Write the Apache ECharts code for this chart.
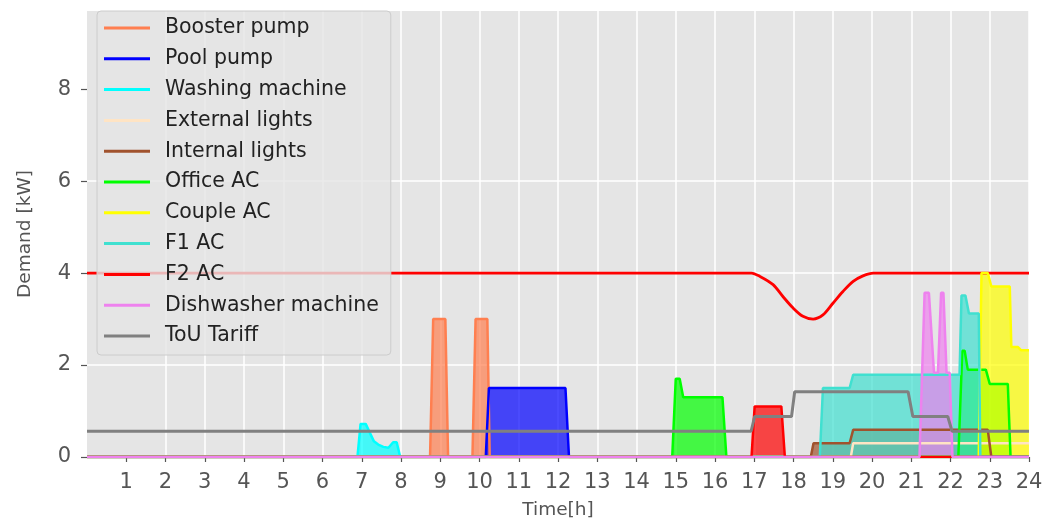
<!DOCTYPE html>
<html>
<head>
<meta charset="utf-8">
<script src="https://cdn.jsdelivr.net/npm/echarts@6/dist/echarts.min.js"></script>
<style>
html,body{margin:0;padding:0;background:#fff;}
#chart{width:1057px;height:520px;}
</style>
</head>
<body>
<div id="chart"></div>
<script>
// ---- data (time in hours, demand in kW) ----
const seriesNames = ['Booster pump','Pool pump','Washing machine','External lights','Internal lights','Office AC','Couple AC','F1 AC','F2 AC','Dishwasher machine','ToU Tariff'];
const seriesColors = ['#FF7F50','#0000FF','#00FFFF','#FFE4C4','#A0522D','#00FF00','#FFFF00','#40E0D0','#FF0000','#EE82EE','#808080'];
const xTicks = [1,2,3,4,5,6,7,8,9,10,11,12,13,14,15,16,17,18,19,20,21,22,23,24];
const yTicks = [0,2,4,6,8];

const boosterPump = [[0,0],[8.74,0],[8.82,3.0],[9.13,3.0],[9.2,0],[9.82,0],[9.9,3.0],[10.2,3.0],[10.26,0],[24,0]];
const poolPump = [[0,0],[10.16,0],[10.24,1.5],[12.19,1.5],[12.28,0],[24,0]];
const washingMachine = [[0,0],[6.89,0],[6.97,0.72],[7.1,0.72],[7.21,0.52],[7.31,0.34],[7.42,0.27],[7.55,0.22],[7.68,0.2],[7.8,0.32],[7.89,0.32],[7.98,0],[24,0]];
const externalLights = [[0,0],[19.46,0],[19.52,0.3],[24,0.3]];
const internalLights = [[0,0],[18.44,0],[18.51,0.3],[19.43,0.3],[19.52,0.59],[22.95,0.59],[23.04,0],[24,0]];
const officeAC = [[0,0],[14.91,0],[15.0,1.7],[15.1,1.7],[15.19,1.3],[16.19,1.3],[16.29,0],[22.2,0],[22.3,2.31],[22.36,2.31],[22.44,1.9],[22.9,1.9],[23.0,1.59],[23.46,1.59],[23.53,0],[24,0]];
const coupleAC = [[0,0],[22.72,0],[22.79,4.0],[22.95,4.0],[23.04,3.71],[23.51,3.71],[23.55,2.39],[23.72,2.39],[23.8,2.32],[24,2.32]];
const f1AC = [[0,0],[18.67,0],[18.75,1.5],[19.43,1.5],[19.52,1.79],[22.23,1.79],[22.28,3.51],[22.38,3.51],[22.47,3.12],[22.72,3.12],[22.76,0],[24,0]];
const f2AC = [[0,0],[16.93,0],[17.01,1.1],[17.69,1.1],[17.78,0],[24,0]];
const dishwasher = [[0,0],[21.21,0],[21.34,3.57],[21.45,3.57],[21.58,1.83],[21.68,1.83],[21.76,3.57],[21.82,3.57],[21.9,1.83],[21.98,1.83],[22.05,0],[24,0]];
const touTariff = [[0,0.56],[16.92,0.56],[17.01,0.88],[17.95,0.88],[18.03,1.42],[20.92,1.42],[21.04,0.88],[21.93,0.88],[22.04,0.56],[24,0.56]];
const f2Limit = [[0,4],[16.93,4],[17.14,3.93],[17.48,3.75],[17.73,3.49],[17.99,3.24],[18.24,3.06],[18.5,3.0],[18.75,3.09],[19.01,3.35],[19.26,3.6],[19.52,3.82],[19.77,3.94],[20.03,4.0],[24,4]];

const seriesData = [boosterPump,poolPump,washingMachine,externalLights,internalLights,officeAC,coupleAC,f1AC,f2AC,dishwasher,touTariff];
const filled = [true,true,true,true,true,true,true,true,true,true,false];

const FONT = 'DejaVu Sans';
const chart = echarts.init(document.getElementById('chart'), null, {renderer:'canvas'});

const series = [{
  name: 'F2 AC limit', type: 'line', data: f2Limit, showSymbol: false, color: '#FF0000',
  lineStyle: {width: 2.8, color: '#FF0000'}, silent: true, smooth: 0.3
}];
seriesNames.forEach((n, i) => {
  const s = {
    name: n, type: 'line', data: seriesData[i], showSymbol: false, color: seriesColors[i],
    lineStyle: {width: i === 10 ? 3 : 2.5, color: seriesColors[i]}, silent: true
  };
  if (filled[i]) s.areaStyle = {color: seriesColors[i], opacity: 0.7};
  series.push(s);
});

chart.setOption({
  animation: false,
  backgroundColor: '#ffffff',
  grid: {left: 87, right: 28, top: 11, bottom: 63, show: true, backgroundColor: '#E5E5E5', borderWidth: 0,
    containLabel: false, outerBoundsMode: 'none'},
  xAxis: {
    type: 'value', min: 0, max: 24, interval: 1,
    name: 'Time[h]', nameLocation: 'middle', nameGap: 44,
    nameTextStyle: {fontFamily: FONT, fontSize: 18.5, color: '#555555'},
    axisLine: {show: false},
    axisTick: {show: true, length: 5, lineStyle: {color: '#555555', width: 1.2}, customValues: xTicks},
    axisLabel: {fontFamily: FONT, fontSize: 21, color: '#555555', margin: 15, customValues: xTicks,
      formatter: v => (v === 0 ? '' : String(v))},
    splitLine: {show: true, showMinLine: false, lineStyle: {color: '#ffffff', width: 1.5}}
  },
  yAxis: {
    type: 'value', min: 0, max: 9.7, interval: 2,
    name: 'Demand [kW]', nameLocation: 'middle', nameGap: 52,
    nameTextStyle: {fontFamily: FONT, fontSize: 18.5, color: '#555555'},
    axisLine: {show: false},
    axisTick: {show: true, length: 6, lineStyle: {color: '#555555', width: 1.2}, customValues: yTicks},
    axisLabel: {fontFamily: FONT, fontSize: 21, color: '#555555', margin: 16, customValues: yTicks},
    splitLine: {show: true, showMaxLine: false, lineStyle: {color: '#ffffff', width: 1.5}}
  },
  legend: {
    show: true, orient: 'vertical', left: 97, top: 11,
    data: seriesNames,
    icon: 'rect', itemWidth: 46, itemHeight: 3, itemGap: 6.8,
    padding: [5, 12, 7, 7],
    backgroundColor: 'rgba(229,229,229,0.8)', borderColor: '#cccccc', borderWidth: 1, borderRadius: 4,
    textStyle: {fontFamily: FONT, fontSize: 20.5, color: '#222222', lineHeight: 24, padding: [0,0,0,10]},
    selectedMode: false
  },
  series: series
});
</script>
</body>
</html>
